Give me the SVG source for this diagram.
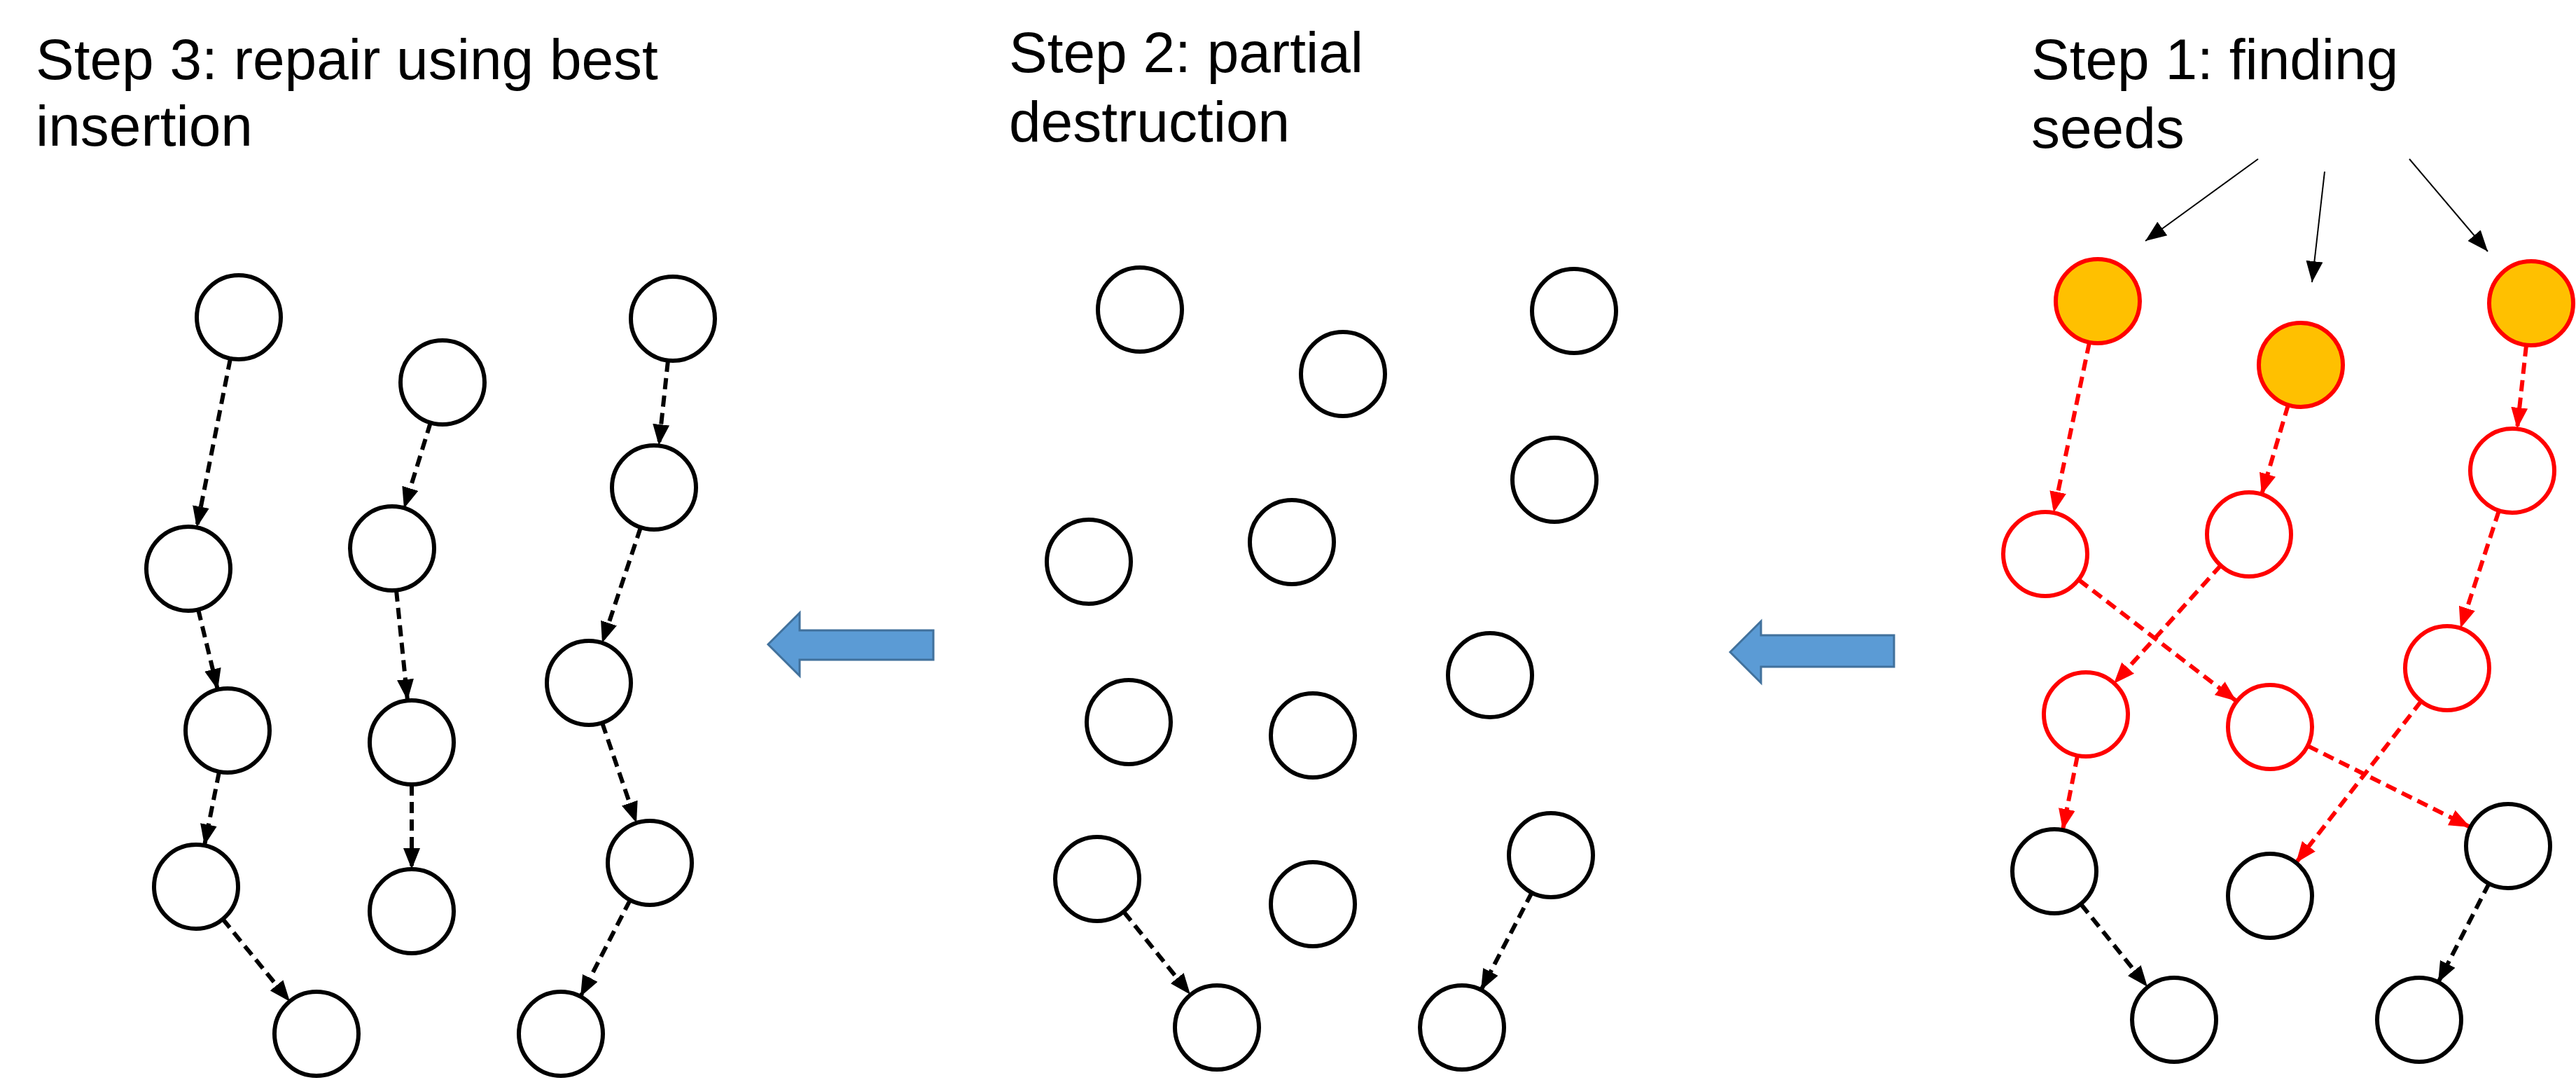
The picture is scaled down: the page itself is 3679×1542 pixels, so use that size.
<svg xmlns="http://www.w3.org/2000/svg" width="3679" height="1542" viewBox="0 0 3679 1542">
<style>
.t{font-family:"Liberation Sans",Arial,sans-serif;font-size:82px;fill:#000}
.n{fill:#fff;stroke:#000;stroke-width:6}
.r{fill:#fff;stroke:#f00;stroke-width:6}
.s{fill:#FFC000;stroke:#f00;stroke-width:6}
.e{fill:none;stroke:#000;stroke-width:6;stroke-dasharray:16 9;marker-end:url(#mb)}
.er{fill:none;stroke:#f00;stroke-width:6;stroke-dasharray:16 9;marker-end:url(#mr)}
.th{fill:none;stroke:#000;stroke-width:2;marker-end:url(#mt)}
.ba{fill:#5B9BD5;stroke:#41719C;stroke-width:3}
</style>
<defs>
<marker id="mb" markerUnits="userSpaceOnUse" viewBox="0 0 30 24" refX="30" refY="12" markerWidth="30" markerHeight="24" orient="auto"><path d="M0,0L30,12L0,24z" fill="#000"/></marker>
<marker id="mr" markerUnits="userSpaceOnUse" viewBox="0 0 30 24" refX="30" refY="12" markerWidth="30" markerHeight="24" orient="auto"><path d="M0,0L30,12L0,24z" fill="#f00"/></marker>
<marker id="mt" markerUnits="userSpaceOnUse" viewBox="0 0 30 24" refX="30" refY="12" markerWidth="30" markerHeight="24" orient="auto"><path d="M0,0L30,12L0,24z" fill="#000"/></marker>
</defs>
<g id="titles">
<text class="t" x="51" y="113">Step 3: repair using best</text>
<text class="t" x="51" y="208">insertion</text>
<text class="t" x="1441" y="103">Step 2: partial</text>
<text class="t" x="1441" y="202">destruction</text>
<text class="t" x="2901" y="113">Step 1: finding</text>
<text class="t" x="2901" y="211">seeds</text>
</g>
<g id="arrow1"><path class="ba" d="M1097,920L1142,875L1142,900L1333,900L1333,942L1142,942L1142,965z"/></g>
<g id="arrow2"><path class="ba" d="M2471,931L2515,887L2515,907L2705,907L2705,952L2515,952L2515,975z"/></g>
<g id="connectors">
<line class="e" x1="329" y1="512" x2="281" y2="753"/>
<line class="e" x1="283" y1="870" x2="311" y2="985"/>
<line class="e" x1="313" y1="1102" x2="292" y2="1207"/>
<line class="e" x1="318" y1="1312" x2="414" y2="1430"/>
<line class="e" x1="615" y1="603" x2="577" y2="726"/>
<line class="e" x1="566" y1="843" x2="582" y2="1000"/>
<line class="e" x1="588" y1="1120" x2="588" y2="1241"/>
<line class="e" x1="954" y1="515" x2="941" y2="636"/>
<line class="e" x1="915" y1="753" x2="860" y2="918"/>
<line class="e" x1="860" y1="1032" x2="909" y2="1175"/>
<line class="e" x1="900" y1="1285" x2="829" y2="1423"/>
<line class="e" x1="1605" y1="1302" x2="1700" y2="1420"/>
<line class="e" x1="2188" y1="1274" x2="2115" y2="1414"/>
<line class="er" x1="2984" y1="489" x2="2933" y2="732"/>
<line class="er" x1="3268" y1="578" x2="3230" y2="706"/>
<line class="er" x1="3608" y1="493" x2="3595" y2="612"/>
<line class="er" x1="2969" y1="828" x2="3194" y2="1001"/>
<line class="er" x1="3172" y1="807" x2="3019" y2="976"/>
<line class="er" x1="3569" y1="729" x2="3514" y2="897"/>
<line class="er" x1="2967" y1="1079" x2="2946" y2="1185"/>
<line class="er" x1="3296" y1="1065" x2="3528" y2="1181"/>
<line class="er" x1="3458" y1="1001" x2="3279" y2="1232"/>
<line class="e" x1="2972" y1="1291" x2="3067" y2="1409"/>
<line class="e" x1="3555" y1="1261" x2="3482" y2="1403"/>
<line class="th" x1="3225" y1="227" x2="3064" y2="344"/>
<line class="th" x1="3320" y1="245" x2="3302" y2="403"/>
<line class="th" x1="3441" y1="227" x2="3553" y2="359"/>
</g>
<g id="A1"><circle class="n" cx="341" cy="453" r="60"/></g>
<g id="A2"><circle class="n" cx="269" cy="812" r="60"/></g>
<g id="A3"><circle class="n" cx="325" cy="1043" r="60"/></g>
<g id="A4"><circle class="n" cx="280" cy="1266" r="60"/></g>
<g id="A5"><circle class="n" cx="452" cy="1476" r="60"/></g>
<g id="B1"><circle class="n" cx="632" cy="546" r="60"/></g>
<g id="B2"><circle class="n" cx="560" cy="783" r="60"/></g>
<g id="B3"><circle class="n" cx="588" cy="1060" r="60"/></g>
<g id="B4"><circle class="n" cx="588" cy="1301" r="60"/></g>
<g id="C1"><circle class="n" cx="961" cy="455" r="60"/></g>
<g id="C2"><circle class="n" cx="934" cy="696" r="60"/></g>
<g id="C3"><circle class="n" cx="841" cy="975" r="60"/></g>
<g id="C4"><circle class="n" cx="928" cy="1232" r="60"/></g>
<g id="C5"><circle class="n" cx="801" cy="1476" r="60"/></g>
<g id="D1"><circle class="n" cx="1628" cy="442" r="60"/></g>
<g id="D2"><circle class="n" cx="1918" cy="534" r="60"/></g>
<g id="D3"><circle class="n" cx="2248" cy="444" r="60"/></g>
<g id="D4"><circle class="n" cx="2220" cy="685" r="60"/></g>
<g id="D5"><circle class="n" cx="1555" cy="802" r="60"/></g>
<g id="D6"><circle class="n" cx="1845" cy="774" r="60"/></g>
<g id="D7"><circle class="n" cx="2128" cy="964" r="60"/></g>
<g id="D8"><circle class="n" cx="1612" cy="1031" r="60"/></g>
<g id="D9"><circle class="n" cx="1875" cy="1050" r="60"/></g>
<g id="D10"><circle class="n" cx="1567" cy="1255" r="60"/></g>
<g id="D11"><circle class="n" cx="1875" cy="1291" r="60"/></g>
<g id="D12"><circle class="n" cx="2215" cy="1221" r="60"/></g>
<g id="D13"><circle class="n" cx="1738" cy="1467" r="60"/></g>
<g id="D14"><circle class="n" cx="2088" cy="1467" r="60"/></g>
<g id="S1"><circle class="s" cx="2996" cy="430" r="60"/></g>
<g id="S2"><circle class="s" cx="3286" cy="521" r="60"/></g>
<g id="S3"><circle class="s" cx="3615" cy="433" r="60"/></g>
<g id="R1"><circle class="r" cx="2921" cy="791" r="60"/></g>
<g id="R2"><circle class="r" cx="3212" cy="763" r="60"/></g>
<g id="R3"><circle class="r" cx="3588" cy="672" r="60"/></g>
<g id="R4"><circle class="r" cx="2979" cy="1020" r="60"/></g>
<g id="R5"><circle class="r" cx="3242" cy="1038" r="60"/></g>
<g id="R6"><circle class="r" cx="3495" cy="954" r="60"/></g>
<g id="K1"><circle class="n" cx="2934" cy="1244" r="60"/></g>
<g id="K2"><circle class="n" cx="3242" cy="1279" r="60"/></g>
<g id="K3"><circle class="n" cx="3582" cy="1208" r="60"/></g>
<g id="K4"><circle class="n" cx="3105" cy="1456" r="60"/></g>
<g id="K5"><circle class="n" cx="3455" cy="1456" r="60"/></g>
</svg>
